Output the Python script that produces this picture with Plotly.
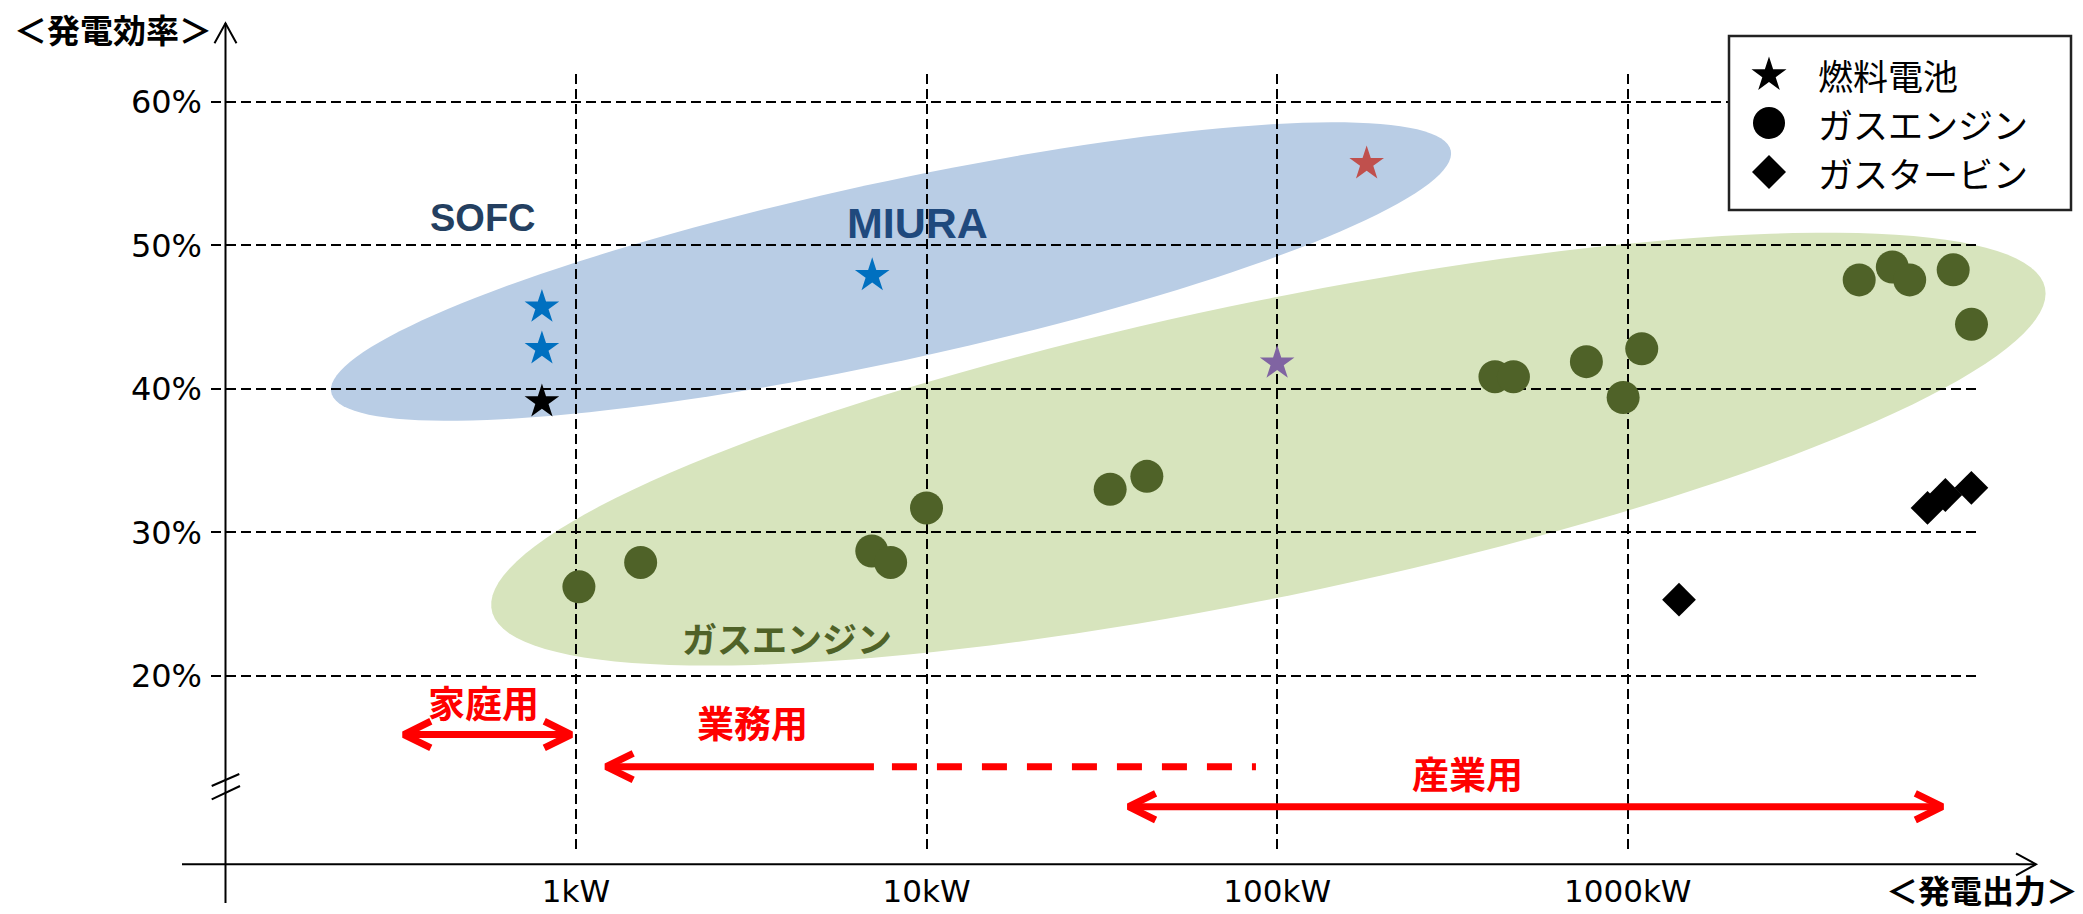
import numpy as np
import plotly.graph_objects as go

# ---------------- data ----------------
fuel_cell_kw = [0.8, 0.8, 0.8, 7.0, 180, 100]
fuel_cell_eff = [45.7, 42.8, 39.1, 47.9, 55.7, 41.8]

gas_engine_kw = [1.02, 1.53, 6.98, 7.9, 10.0, 33.4, 42.5, 418, 472, 762, 970, 1096,
                 4571, 5681, 6368, 8474, 9556]
gas_engine_eff = [26.2, 27.9, 28.7, 27.9, 31.7, 33.0, 33.9, 40.85, 40.85, 41.9, 39.4, 42.8,
                  47.6, 48.5, 47.6, 48.3, 44.5]

gas_turbine_kw = [1400, 7160, 8050, 9550]
gas_turbine_eff = [25.3, 31.7, 32.6, 33.1]

x_tick_vals = [1, 10, 100, 1000, 10000]
x_tick_text = ["1kW", "10kW", "100kW", "1000kW", ""]
y_tick_vals = [20, 30, 40, 50, 60]
y_tick_text = ["20%", "30%", "40%", "50%", "60%"]

legend_labels = ["燃料電池", "ガスエンジン", "ガスタービン"]

usage_labels = ["家庭用", "業務用", "産業用"]
usage_from_kw = [0.323, 1.22, 37.7]
usage_solid_to_kw = [0.97, 7.08, 7890]
usage_dashed_to_kw = [None, 87, None]

# ---------------- style / layout ----------------
FIG_W, FIG_H = 2083, 914
L, R, T, B = 211, 1979, 74, 853
X_RANGE = [-1.0407, 4.0017]
Y_RANGE = [7.641, 61.954]

fuel_cell_colors = ["#0070C0", "#0070C0", "#000000", "#0070C0", "#C0504D", "#8064A2"]
ENGINE_COLOR = "#4F6228"
RED = "#FF0000"
JP = "Noto Sans CJK JP"
LAT = "DejaVu Sans"
ARIAL = "Liberation Sans"


def px_x(logx):
    return L + (logx - X_RANGE[0]) / (X_RANGE[1] - X_RANGE[0]) * (R - L)


def px_y(v):
    return B - (v - Y_RANGE[0]) / (Y_RANGE[1] - Y_RANGE[0]) * (B - T)


def pap_x(px):
    return (px - L) / (R - L)


def pap_y(py):
    return (B - py) / (B - T)


def ellipse_path(c_kw, c_eff, a, b, theta_deg):
    cx, cy = px_x(np.log10(c_kw)), px_y(c_eff)
    th = np.radians(theta_deg)
    t = np.linspace(0, 2 * np.pi, 160)
    xs = cx + a * np.cos(th) * np.cos(t) - b * np.sin(th) * np.sin(t)
    ys = cy - (a * np.sin(th) * np.cos(t) + b * np.cos(th) * np.sin(t))
    pts = [f"{pap_x(x):.5f},{pap_y(y):.5f}" for x, y in zip(xs, ys)]
    return "M " + " L ".join(pts) + " Z"


def pline(x0, y0, x1, y1, color="#000000", width=2):
    return dict(type="line", xref="paper", yref="paper", layer="above",
                x0=pap_x(x0), y0=pap_y(y0), x1=pap_x(x1), y1=pap_y(y1),
                line=dict(color=color, width=width))


def ppath(pts, fill=None, color="#000000", width=2):
    d = "M " + " L ".join(f"{pap_x(x):.5f},{pap_y(y):.5f}" for x, y in pts)
    if fill:
        d += " Z"
    return dict(type="path", xref="paper", yref="paper", layer="above", path=d,
                fillcolor=fill if fill else "rgba(0,0,0,0)",
                line=dict(color=color, width=width if not fill else 0))


fig = go.Figure()

# usage range arrows (red)
usage_level = [15.9, 13.66, 10.87]
head_both = [True, False, True]
DEC_PX = (R - L) / (X_RANGE[1] - X_RANGE[0])
PCT_PX = (B - T) / (Y_RANGE[1] - Y_RANGE[0])
HEAD_DX = 27 / DEC_PX
HEAD_DY = 13.3 / PCT_PX
for i in range(3):
    lv = usage_level[i]
    fig.add_trace(go.Scatter(x=[usage_from_kw[i], usage_solid_to_kw[i]], y=[lv, lv], mode="lines",
                             line=dict(color=RED, width=7), showlegend=False, hoverinfo="skip"))
    if usage_dashed_to_kw[i] is not None:
        start = 10 ** (np.log10(usage_solid_to_kw[i]) + 18 / DEC_PX)
        fig.add_trace(go.Scatter(x=[start, usage_dashed_to_kw[i]], y=[lv, lv], mode="lines",
                                 line=dict(color=RED, width=7, dash="25px,20px"),
                                 showlegend=False, hoverinfo="skip"))
    tips = [(usage_from_kw[i], 1)]
    if head_both[i]:
        tips.append((usage_solid_to_kw[i], -1))
    for tip, d in tips:
        lt = np.log10(tip)
        fig.add_trace(go.Scatter(x=[10 ** (lt + d * HEAD_DX), tip, 10 ** (lt + d * HEAD_DX)],
                                 y=[lv + HEAD_DY, lv, lv - HEAD_DY], mode="lines",
                                 line=dict(color=RED, width=7), showlegend=False, hoverinfo="skip"))

# markers
fig.add_trace(go.Scatter(x=gas_engine_kw, y=gas_engine_eff, mode="markers", cliponaxis=False,
                         marker=dict(symbol="circle", size=33, color=ENGINE_COLOR, line=dict(width=0)),
                         name=legend_labels[1], showlegend=False))
fig.add_trace(go.Scatter(x=gas_turbine_kw, y=gas_turbine_eff, mode="markers", cliponaxis=False,
                         marker=dict(symbol="diamond", size=26, color="#000000", line=dict(width=0)),
                         name=legend_labels[2], showlegend=False))
fig.add_trace(go.Scatter(x=fuel_cell_kw, y=fuel_cell_eff, mode="markers", cliponaxis=False,
                         marker=dict(symbol="star", size=26, color=fuel_cell_colors, line=dict(width=0)),
                         name=legend_labels[0], showlegend=False))

shapes = []
# highlight ellipses (below grid)
shapes.append(dict(type="path", xref="paper", yref="paper", layer="below",
                   path=ellipse_path(7.92, 48.18, 572.7, 89.4, 12.2),
                   fillcolor="#B9CDE5", line=dict(width=0)))
shapes.append(dict(type="path", xref="paper", yref="paper", layer="below",
                   path=ellipse_path(94.4, 35.8, 793.2, 147.5, 11.73),
                   fillcolor="#D7E4BD", line=dict(width=0)))

# axis lines with open arrow heads
YAX_X = 225.5
XAX_Y = 864.3
shapes.append(pline(YAX_X, 903, YAX_X, 23.3))
shapes.append(ppath([(YAX_X - 11, 43.3), (YAX_X, 23.3), (YAX_X + 11, 43.3)]))
shapes.append(pline(182, XAX_Y, 2036, XAX_Y))
shapes.append(ppath([(2016, XAX_Y - 11), (2036, XAX_Y), (2016, XAX_Y + 11)]))
# axis break marks
shapes.append(pline(211.7, 786, 239.3, 774))
shapes.append(pline(211.7, 799.3, 240, 786))

# custom legend box
shapes.append(dict(type="rect", xref="paper", yref="paper", layer="above",
                   x0=pap_x(1729), y0=pap_y(210), x1=pap_x(2071), y1=pap_y(36),
                   fillcolor="#FFFFFF", line=dict(color="#222222", width=2.5)))
LEG_MX = 1769
leg_y = [74, 123, 172]
sr = 18.4
star_pts = []
for k in range(10):
    ang = np.pi / 2 + k * np.pi / 5
    rr = sr if k % 2 == 0 else sr * 0.382
    star_pts.append((LEG_MX + rr * np.cos(ang), leg_y[0] + 1 - rr * np.sin(ang)))
shapes.append(ppath(star_pts, fill="#000000"))
shapes.append(dict(type="circle", xref="paper", yref="paper", layer="above",
                   x0=pap_x(LEG_MX - 16), x1=pap_x(LEG_MX + 16),
                   y0=pap_y(leg_y[1] + 16), y1=pap_y(leg_y[1] - 16),
                   fillcolor="#000000", line=dict(width=0)))
shapes.append(ppath([(LEG_MX, leg_y[2] - 17), (LEG_MX + 17, leg_y[2]),
                     (LEG_MX, leg_y[2] + 17), (LEG_MX - 17, leg_y[2])], fill="#000000"))

annotations = []
for lab, yy in zip(legend_labels, leg_y):
    annotations.append(dict(xref="paper", yref="paper", x=pap_x(1816), y=pap_y(yy + 1),
                            xanchor="left", yanchor="middle", showarrow=False, text=lab,
                            font=dict(family=JP, size=35, color="#000000")))

# axis titles
annotations.append(dict(xref="paper", yref="paper", x=pap_x(12), y=pap_y(29), xanchor="left",
                        yanchor="middle", showarrow=False, text="＜発電効率＞",
                        font=dict(family=JP, size=33, color="#000000", weight="bold")))
annotations.append(dict(xref="paper", yref="paper", x=pap_x(2080), y=pap_y(914), xanchor="right",
                        yanchor="bottom", showarrow=False, text="＜発電出力＞",
                        font=dict(family=JP, size=32, color="#000000", weight="bold")))

# region labels (log10 for annotation x on log axis)
annotations.append(dict(xref="x", yref="y", x=np.log10(0.543), y=51.9, showarrow=False, text="SOFC",
                        font=dict(family=ARIAL, size=38, color="#243F60", weight="bold")))
annotations.append(dict(xref="x", yref="y", x=np.log10(9.42), y=51.6, showarrow=False, text="MIURA",
                        font=dict(family=ARIAL, size=43, color="#1F497D", weight="bold")))
annotations.append(dict(xref="x", yref="y", x=np.log10(3.99), y=22.7, showarrow=False, text="ガスエンジン",
                        font=dict(family=JP, size=35, color=ENGINE_COLOR, weight="bold")))
label_pos = [(0.546, 18.2), (3.18, 16.75), (349, 13.2)]
for lab, (lx, ly) in zip(usage_labels, label_pos):
    annotations.append(dict(xref="x", yref="y", x=np.log10(lx), y=ly, showarrow=False, text=lab,
                            font=dict(family=JP, size=37, color=RED, weight="bold")))

fig.update_layout(
    width=FIG_W, height=FIG_H,
    margin=dict(l=L, r=FIG_W - R, t=T, b=FIG_H - B, autoexpand=False),
    paper_bgcolor="#FFFFFF", plot_bgcolor="#FFFFFF",
    showlegend=False,
    shapes=shapes, annotations=annotations,
    xaxis=dict(type="log", range=X_RANGE, tickvals=x_tick_vals, ticktext=x_tick_text,
               showgrid=True, gridcolor="#000000", gridwidth=2, griddash="10px,5px",
               zeroline=False, showline=False, ticks="", ticklabelstandoff=17,
               tickfont=dict(family=LAT, size=31, color="#000000")),
    yaxis=dict(range=Y_RANGE, tickvals=y_tick_vals, ticktext=y_tick_text,
               showgrid=True, gridcolor="#000000", gridwidth=2, griddash="10px,5px",
               zeroline=False, showline=False, ticks="", ticklabelstandoff=8,
               tickfont=dict(family=LAT, size=32, color="#000000")),
)

fig.write_html("out.html")
